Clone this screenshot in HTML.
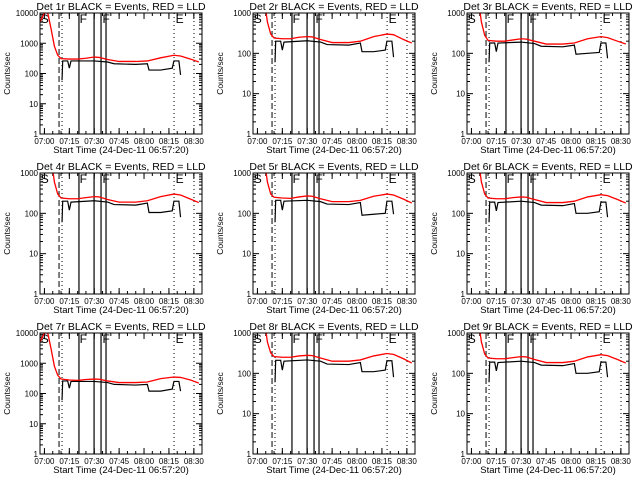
<!DOCTYPE html>
<html><head><meta charset="utf-8"><style>
html,body{margin:0;padding:0;background:#fff;}
svg{display:block;font-family:"Liberation Sans",sans-serif;}
</style></head><body>
<svg id="chart" width="640" height="480" viewBox="0 0 640 480" xmlns="http://www.w3.org/2000/svg"></svg>
<script>
// time in minutes relative to 07:00
const redTimes = [-2.7,0,2,4,6,8,10,15,20,25,30,33,38,45,55,62,70,78,82,88,93];
const blackTimes = [10.6,11,14,15,16,30,38,42,55,62,63,70,77,78,81,82];
const detLabels = ["1r","2r","3r","4r","5r","6r","7r","8r","9r"];
const yMaxDecade = [4,3,3,3,3,3,4,3,3];
const redValues = [
 [5000,10000,10000,3000,800,400,310,300,300,320,350,340,290,250,250,260,330,400,380,300,240],
 [5000,5000,5000,2500,600,300,240,230,230,250,260,255,220,185,185,200,260,300,290,220,180],
 [5000,5000,5000,2500,600,280,210,200,200,215,230,225,200,170,170,180,230,260,245,200,170],
 [5000,5000,5000,2500,600,300,240,230,230,245,260,255,220,190,190,205,260,300,285,225,185],
 [5000,5000,5000,2500,600,300,250,240,235,255,270,265,230,195,195,210,265,300,285,225,180],
 [5000,5000,5000,2500,600,300,240,230,230,245,255,250,220,185,185,200,255,290,275,220,180],
 [5000,10000,10000,3000,800,400,300,280,270,290,300,295,260,230,230,240,310,350,340,280,220],
 [5000,5000,5000,2500,600,320,260,250,250,270,280,275,240,200,200,215,270,310,295,230,180],
 [5000,5000,5000,2500,600,300,240,230,230,245,260,255,220,185,185,200,255,290,275,220,180]
];
const blackValues = [
 [60,260,260,150,260,260,240,210,200,210,130,130,150,260,260,90],
 [60,200,200,120,190,205,190,165,160,180,110,110,120,200,200,80],
 [60,180,180,110,180,190,175,150,145,160,95,100,105,180,180,75],
 [60,200,200,120,190,205,190,165,160,180,105,105,115,200,200,80],
 [60,210,210,120,200,210,195,170,165,185,90,95,100,200,200,95],
 [60,190,190,115,185,200,185,160,155,175,100,100,110,190,190,80],
 [60,260,260,150,250,250,230,200,190,200,120,120,140,250,250,120],
 [60,210,210,120,200,215,200,170,165,185,110,110,120,205,205,80],
 [60,190,190,115,185,200,185,160,155,175,100,100,110,190,190,80]
];
const xTickLabels = ["07:00","07:15","07:30","07:45","08:00","08:15","08:30"];
const xTickMinutes = [0,15,30,45,60,75,90];
const dashedMarks = [8.8];
const dottedMarks = [10.6,78.1,90.1];
const solidMarks = [20.8,29.9,34.1,37.1];
const flagLabels = ["S","F","F","E"];
const flagMinutes = [-2.2,21.2,35,79];

const NS="http://www.w3.org/2000/svg";
const svg=document.getElementById('chart');
function mk(tag,attrs,parent){const e=document.createElementNS(NS,tag);for(const k in attrs)e.setAttribute(k,attrs[k]);(parent||svg).appendChild(e);return e;}

const colX=[0,213,427], rowY=[0,160,320];
const PW=162, PH=121, XMIN=-2.67, XMAX=XMIN+PW/1.66;

for(let p=0;p<9;p++){
  const ox=colX[p%3]+40, oy=rowY[Math.floor(p/3)]+13;
  const g=mk('g',{});
  
  
  const dmax=yMaxDecade[p];
  const xs=t=>ox+(t-XMIN)/(XMAX-XMIN)*PW;
  const ys=v=>oy+PH-Math.log10(Math.max(v,1))/dmax*PH;
  const clipId='clip'+p;
  const cp=mk('clipPath',{id:clipId},g);mk('rect',{x:ox,y:oy,width:PW,height:PH},cp);
  const tt=mk('text',{x:ox+81,y:oy-3,'text-anchor':'middle','font-size':'10.5'},g);
  tt.textContent='Det '+detLabels[p]+' BLACK = Events, RED = LLD';
  
  
  const yl=mk('text',{x:0,y:0,'text-anchor':'middle','font-size':'8.5',transform:`translate(${ox-30},${oy+PH/2}) rotate(-90)`},g);
  yl.textContent='Counts/sec';
  
  
  const xl=mk('text',{x:ox+81,y:oy+PH+19,'text-anchor':'middle','font-size':'9.5'},g);
  xl.textContent='Start Time (24-Dec-11 06:57:20)';
  
  
  for(let d=0;d<=dmax;d++){
    const y=ys(Math.pow(10,d));
    mk('line',{x1:ox,x2:ox+6,y1:y,y2:y,stroke:'#000'},g);
    mk('line',{x1:ox+PW-6,x2:ox+PW,y1:y,y2:y,stroke:'#000'},g);
    const lb=mk('text',{x:ox-2,y:y+3,'text-anchor':'end','font-size':'8'},g);
    lb.textContent=String(Math.pow(10,d));
    
    
    if(d<dmax)for(let m=2;m<10;m++){const yy=ys(m*Math.pow(10,d));
      mk('line',{x1:ox,x2:ox+3,y1:yy,y2:yy,stroke:'#000'},g);
      mk('line',{x1:ox+PW-3,x2:ox+PW,y1:yy,y2:yy,stroke:'#000'},g);}
  }
  xTickMinutes.forEach((t,i)=>{
    const x=xs(t);
    mk('line',{x1:x,x2:x,y1:oy+PH,y2:oy+PH-6,stroke:'#000'},g);
    mk('line',{x1:x,x2:x,y1:oy,y2:oy+6,stroke:'#000'},g);
    const lb=mk('text',{x:x,y:oy+PH+10,'text-anchor':'middle','font-size':'8'},g);
    lb.textContent=xTickLabels[i];
    
    
  });
  for(let t=-0;t<XMAX;t+=5){const x=xs(t);
    mk('line',{x1:x,x2:x,y1:oy+PH,y2:oy+PH-3,stroke:'#000'},g);
    mk('line',{x1:x,x2:x,y1:oy,y2:oy+3,stroke:'#000'},g);}
  const cg=mk('g',{'clip-path':`url(#${clipId})`},g);
  dashedMarks.forEach(t=>mk('line',{x1:xs(t),x2:xs(t),y1:oy,y2:oy+PH,stroke:'#000','stroke-dasharray':'6,3'},cg));
  dottedMarks.forEach(t=>mk('line',{x1:xs(t),x2:xs(t),y1:oy,y2:oy+PH,stroke:'#000','stroke-dasharray':'1,3'},cg));
  solidMarks.forEach(t=>mk('line',{x1:xs(t),x2:xs(t),y1:oy,y2:oy+PH,stroke:'#000','stroke-width':'1.2'},cg));
  flagLabels.forEach((s,i)=>{
    const ft=mk('text',{x:xs(flagMinutes[i]),y:oy+10,'font-size':'12'},cg);
    ft.textContent=s;
    
    
  });
  const rp=redTimes.map((t,i)=>xs(t)+','+ys(redValues[p][i])).join(' ');
  const red=mk('polyline',{points:rp,fill:'none',stroke:'#f00','stroke-width':'1.3'},cg);
  
  
  const bp=blackTimes.map((t,i)=>xs(t)+','+ys(blackValues[p][i])).join(' ');
  const blk=mk('polyline',{points:bp,fill:'none',stroke:'#000','stroke-width':'1.2'},cg);
  
  
  mk('rect',{x:ox,y:oy,width:PW,height:PH,fill:'none',stroke:'#000'},g);
}
</script>
</body></html>
